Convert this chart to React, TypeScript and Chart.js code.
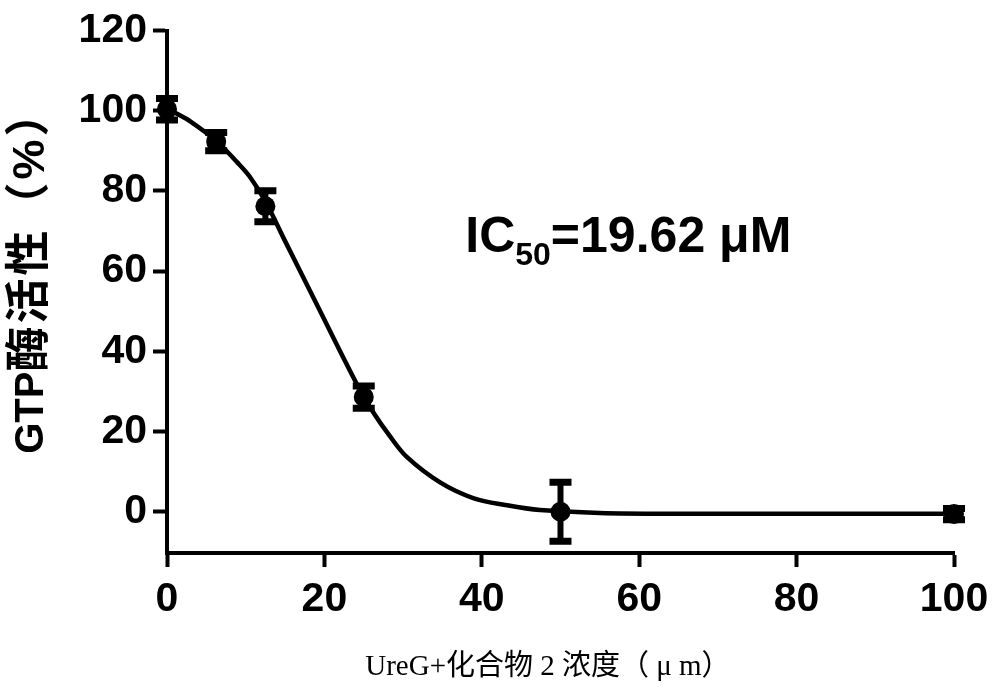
import React, { useEffect, useRef } from "react";
import { Chart, registerables } from "chart.js";

Chart.register(...registerables);

// Measured points (mean ± error)
const concentrations = [0, 6.25, 12.5, 25, 50, 100];
const activity = [100.4, 92.3, 76.2, 28.6, 0, -0.6];
const errorValues = [3.3, 2.9, 4.5, 3.4, 8, 2];

// Fitted curve
const fitX = [0, 1.2, 3, 6.25, 8.9, 10.5, 12.5, 14.8, 18.8, 24.1, 26.2, 28.3, 30.5, 34.7, 38.9, 43.2, 47.4, 55, 65, 80, 100];
const fitY = [100.5, 99.3, 97.3, 92.5, 87.2, 83.6, 77.4, 68.3, 52.6, 31.9, 24.8, 18.9, 13.6, 7.3, 3.4, 1.6, 0.4, -0.3, -0.5, -0.5, -0.5];

const xTicks = [0, 20, 40, 60, 80, 100];
const yTicks = [0, 20, 40, 60, 80, 100, 120];

const yTitleLatin = "GTP";
const yTitleCjk = "酶活性（%）";
const xTitle = "UreG+化合物 2 浓度（ μ m）";
const icMain = "IC";
const icSub = "50";
const icRest = "=19.62 μM";

const SANS = "'Liberation Sans', Arial, 'Noto Sans CJK SC', sans-serif";
const SERIF = "'Liberation Serif', 'Times New Roman', 'Noto Sans CJK SC', serif";

const errorBarPlugin = {
  id: "errorBars",
  beforeDatasetsDraw(chart: any) {
    const { ctx, scales } = chart;
    const x = scales.x;
    const y = scales.y;
    ctx.save();
    ctx.strokeStyle = "#000";
    ctx.lineCap = "butt";
    concentrations.forEach((c, i) => {
      const px = x.getPixelForValue(c);
      const top = y.getPixelForValue(activity[i] + errorValues[i]);
      const bot = y.getPixelForValue(activity[i] - errorValues[i]);
      ctx.lineWidth = 6;
      ctx.beginPath();
      ctx.moveTo(px, top);
      ctx.lineTo(px, bot);
      ctx.stroke();
      ctx.lineWidth = 7;
      ctx.beginPath();
      ctx.moveTo(px - 11, top + 2.5);
      ctx.lineTo(px + 11, top + 2.5);
      ctx.moveTo(px - 11, bot - 2.5);
      ctx.lineTo(px + 11, bot - 2.5);
      ctx.stroke();
    });
    ctx.restore();
  },
};

const textPlugin = {
  id: "texts",
  afterDraw(chart: any) {
    const { ctx, chartArea, scales } = chart;
    const x = scales.x;
    const y = scales.y;
    ctx.save();
    ctx.fillStyle = "#000";

    // Y title (rotated), two runs
    ctx.save();
    ctx.translate(chartArea.left - 135, y.getPixelForValue(60));
    ctx.rotate(-Math.PI / 2);
    ctx.textBaseline = "middle";
    ctx.textAlign = "left";
    ctx.font = `bold 40px ${SANS}`;
    const w1 = ctx.measureText(yTitleLatin).width;
    ctx.font = `bold 45px ${SANS}`;
    (ctx as any).letterSpacing = "3px";
    const w2 = ctx.measureText(yTitleCjk).width;
    const start = -(w1 + w2) / 2;
    (ctx as any).letterSpacing = "0px";
    ctx.font = `bold 40px ${SANS}`;
    ctx.fillText(yTitleLatin, start, 0);
    ctx.font = `bold 45px ${SANS}`;
    (ctx as any).letterSpacing = "3px";
    ctx.fillText(yTitleCjk, start + w1, 0);
    (ctx as any).letterSpacing = "0px";
    ctx.restore();

    // X title
    ctx.font = `29px ${SERIF}`;
    ctx.textAlign = "center";
    ctx.textBaseline = "middle";
    ctx.fillText(xTitle, x.getPixelForValue(48.4), chartArea.bottom + 114);

    // IC50 annotation
    let tx = x.getPixelForValue(37.9);
    const ty = y.getPixelForValue(64.8);
    ctx.textAlign = "left";
    ctx.textBaseline = "alphabetic";
    ctx.font = `bold 50px ${SANS}`;
    ctx.fillText(icMain, tx, ty);
    tx += ctx.measureText(icMain).width;
    ctx.font = `bold 32px ${SANS}`;
    ctx.fillText(icSub, tx, ty + 13);
    tx += ctx.measureText(icSub).width;
    ctx.font = `bold 50px ${SANS}`;
    ctx.fillText(icRest, tx, ty);
    ctx.restore();
  },
};

export default function App() {
  const canvasRef = useRef<HTMLCanvasElement | null>(null);

  useEffect(() => {
    if (!canvasRef.current) return;
    const chart = new Chart(canvasRef.current, {
      type: "scatter",
      data: {
        datasets: [
          {
            label: "fit",
            data: fitX.map((v, i) => ({ x: v, y: fitY[i] })),
            showLine: true,
            borderColor: "#000",
            borderWidth: 4.5,
            pointRadius: 0,
            tension: 0.35,
            clip: false,
          } as any,
          {
            label: "data",
            data: concentrations.map((v, i) => ({ x: v, y: activity[i] })),
            showLine: false,
            pointRadius: 10,
            pointBackgroundColor: "#000",
            pointBorderColor: "#000",
            pointBorderWidth: 0,
            clip: false,
          } as any,
        ],
      },
      options: {
        animation: false,
        responsive: false,
        devicePixelRatio: 1,
        layout: { padding: { top: 30, right: 46, bottom: 0, left: 0 } },
        plugins: {
          legend: { display: false },
          tooltip: { enabled: false },
        },
        scales: {
          x: {
            type: "linear",
            min: 0,
            max: 100,
            afterBuildTicks: (axis: any) => {
              axis.ticks = xTicks.map((v) => ({ value: v }));
            },
            afterFit: (axis: any) => {
              axis.height = 138;
            },
            ticks: {
              color: "#000",
              padding: 8,
              font: { family: SANS, size: 41, weight: "bold" },
              maxRotation: 0,
            },
            grid: {
              display: true,
              drawOnChartArea: false,
              drawTicks: true,
              tickLength: 14,
              tickWidth: 4,
              tickColor: "#000",
            },
            border: { display: true, width: 4, color: "#000" },
          },
          y: {
            type: "linear",
            min: -10.3,
            max: 120,
            afterBuildTicks: (axis: any) => {
              axis.ticks = yTicks.map((v) => ({ value: v }));
            },
            afterFit: (axis: any) => {
              axis.width = 167;
            },
            ticks: {
              color: "#000",
              padding: 6,
              font: { family: SANS, size: 41, weight: "bold" },
            },
            grid: {
              display: true,
              drawOnChartArea: false,
              drawTicks: true,
              tickLength: 14,
              tickWidth: 4,
              tickColor: "#000",
            },
            border: { display: true, width: 4, color: "#000" },
          },
        },
      } as any,
      plugins: [errorBarPlugin, textPlugin],
    });
    return () => chart.destroy();
  }, []);

  return (
    <div style={{ position: "absolute", left: 0, top: 0, width: 1000, height: 691, background: "#fff" }}>
      <canvas ref={canvasRef} width={1000} height={691} style={{ width: 1000, height: 691, display: "block" }} />
    </div>
  );
}
